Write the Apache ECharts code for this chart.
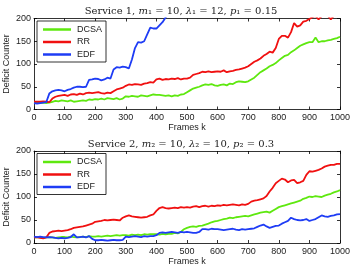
<!DOCTYPE html>
<html><head><meta charset="utf-8">
<script src="https://cdn.jsdelivr.net/npm/echarts@6/dist/echarts.min.js"></script>
<style>html,body{margin:0;padding:0;background:#fff}#c{width:362px;height:271px}</style>
</head><body><div id="c"></div>
<script>
const frames = [];
for (let k = 0; k <= 1000; k += 10) frames.push(k);
const xTicks = [0,100,200,300,400,500,600,700,800,900,1000];
const yTicks = [0,50,100,150,200];
const seriesNames = ['DCSA','RR','EDF'];

const s1DCSA = [15,15,14,15,14,15,17,19,18,20,
 19,18,20,17,18,19,20,19,22,21,
 23,22,24,22,25,24,23,25,22,24,
 29,28,30,29,28,31,30,29,31,33,
 32,32,31,30,31,29,31,30,33,34,
 38,42,46,48,50,53,55,54,56,53,
 52,54,55,53,57,56,60,62,61,60,
 62,66,70,76,82,86,90,95,98,102,
 108,113,118,120,126,130,135,140,143,146,
 148,148,158,148,150,150,152,153,155,157,160];
const s1RR = [17,17,17,18,17,16,24,28,30,31,
 32,30,33,34,32,35,33,36,37,36,
 37,38,36,35,37,36,40,44,46,48,
 52,55,54,56,55,54,57,58,60,59,
 66,68,65,67,66,68,67,69,66,68,
 68,70,76,78,80,83,82,84,82,83,
 84,83,86,82,84,85,87,88,90,92,
 95,100,105,108,112,118,122,127,125,135,
 155,162,162,158,170,190,182,185,193,195,
 199,203,205,198,205,208,206,198,206,208,210];
const s1EDF = [14,13,14,15,16,35,40,42,43,42,
 40,43,45,48,50,50,49,50,65,66,
 68,67,64,66,70,68,88,93,92,94,
 93,90,110,135,148,147,150,165,180,178,
 178,185,192,202,215,225,235,245,255,265,
 270,275,280,285,290,295,300,305,310,315,
 320,325,330,335,340,345,350,355,360,365,
 370,375,380,385,390,395,400,405,410,415,
 420,425,430,435,440,445,450,455,460,465,
 470,475,480,485,490,495,500,505,510,515,520];

const s2DCSA = [12,13,12,11,12,13,12,11,12,13,
 13,12,14,13,12,13,14,13,15,14,
 14,15,14,15,16,15,16,17,16,17,
 17,16,18,17,18,17,19,18,19,19,
 19,18,20,19,20,20,22,21,24,30,
 33,35,36,35,37,38,40,42,45,47,
 48,50,52,53,55,54,56,57,58,59,
 58,60,62,64,66,67,68,66,70,74,
 78,80,82,84,86,88,90,92,96,98,
 101,100,102,101,100,103,105,107,110,112,115];
const s2RR = [12,13,11,10,12,22,25,26,27,26,
 27,28,30,33,34,35,36,38,40,42,
 46,47,48,50,49,50,51,50,49,55,
 58,60,58,57,56,55,56,57,60,62,
 70,76,78,76,75,76,77,76,78,77,
 78,77,79,80,78,80,81,79,81,80,
 82,81,83,82,83,84,83,82,84,83,
 85,90,92,93,95,97,102,112,120,130,
 135,140,138,132,136,137,130,132,135,148,
 156,155,157,159,162,166,168,170,170,172,172];
const s2EDF = [14,13,14,13,12,13,12,11,10,11,
 10,11,13,19,12,13,14,12,15,9,
 6,6,7,6,5,6,7,6,6,7,
 14,13,14,15,14,13,15,14,15,15,
 17,22,23,22,23,24,23,22,24,23,
 24,23,22,22,24,30,30,29,31,30,
 30,29,28,29,30,31,29,28,30,29,
 30,31,32,35,38,40,36,33,35,37,
 38,42,45,48,55,52,50,49,50,52,
 48,50,52,56,60,58,57,59,60,62,63];

const colors = {DCSA:'#5ee80f', RR:'#f01010', EDF:'#1e3cf5'};
const txt = '#222';
const sans = 'Liberation Sans';
const serif = 'DejaVu Serif';

const grids = [
  {left:34, right:22, top:18.5, height:91, containLabel:false, outerBoundsMode:'none'},
  {left:34, right:22, top:151, height:92, containLabel:false, outerBoundsMode:'none'}
];
function xAx(i, pos){
  const main = pos==='bottom';
  return {gridIndex:i, type:'value', min:0, max:1000, interval:100, position:pos,
    name: main ? 'Frames k' : '', nameLocation:'middle', nameGap:14, nameMoveOverlap:false,
    nameTextStyle:{fontFamily:sans, fontSize:9, color:txt},
    axisLine:{show:true, onZero:false, lineStyle:{color:'#000', width:0.8}},
    axisTick:{show:true, inside:true, length:3, lineStyle:{color:'#000', width:0.8}},
    axisLabel:{show:main, fontFamily:sans, fontSize:9, color:txt, margin:4, formatter:v=>String(v)},
    splitLine:{show:false}};
}
function yAx(i, pos){
  const main = pos==='left';
  return {gridIndex:i, type:'value', min:0, max:200, interval:50, position:pos,
    name: main ? 'Deficit Counter' : '', nameLocation:'middle', nameGap:23, nameRotate:90,
    nameMoveOverlap:false,
    nameTextStyle:{fontFamily:sans, fontSize:9, color:txt},
    axisLine:{show:true, onZero:false, lineStyle:{color:'#000', width:0.8}},
    axisTick:{show:true, inside:true, length:3, lineStyle:{color:'#000', width:0.8}},
    axisLabel:{show:main, fontFamily:sans, fontSize:9, color:txt, margin:3, formatter:v=>String(v)},
    splitLine:{show:false}};
}
function mk(name, arr, gi){
  return {name:name, type:'line', xAxisIndex:gi*2, yAxisIndex:gi*2, showSymbol:false, symbol:'none',
    clip:true, animation:false,
    data: frames.map((f,i)=>[f, arr[i]]),
    lineStyle:{color:colors[name], width:1.8}, itemStyle:{color:colors[name]}};
}
function legend(top){
  return {orient:'vertical', left:37, top:top, itemWidth:28, itemHeight:2.5, itemGap:3.5, icon:'rect',
    padding:[4,4,3,6], borderColor:'#000', borderWidth:0.8, backgroundColor:'#fff', borderRadius:0,
    textStyle:{fontFamily:sans, fontSize:9, color:txt, padding:[0,0,0,1]},
    data: seriesNames.map(n=>({name:n, itemStyle:{color:colors[n]}}))};
}
function titleTxt(n, m, lam, p){
  return 'Service '+n+', {i|m}'+n+' = '+m+', {i|λ}'+n+' = '+lam+', {i|p}'+n+' = '+p;
}
const chart = echarts.init(document.getElementById('c'), null, {renderer:'canvas'});
chart.setOption({
  animation:false,
  backgroundColor:'#fff',
  title:[
    {text: titleTxt(1,10,12,0.15).replace(/\}1 /g,'}₁ '), left:'center', top:1,
      textStyle:{fontFamily:serif, fontSize:10, fontWeight:'normal', color:txt,
        rich:{i:{fontFamily:serif, fontStyle:'italic', fontSize:10, color:txt}}}},
    {text: titleTxt(2,10,10,0.3).replace(/\}2 /g,'}₂ '), left:'center', top:134,
      textStyle:{fontFamily:serif, fontSize:10, fontWeight:'normal', color:txt,
        rich:{i:{fontFamily:serif, fontStyle:'italic', fontSize:10, color:txt}}}}
  ],
  legend:[legend(21), legend(153.5)],
  grid: grids,
  xAxis:[xAx(0,'bottom'), xAx(0,'top'), xAx(1,'bottom'), xAx(1,'top')],
  yAxis:[yAx(0,'left'), yAx(0,'right'), yAx(1,'left'), yAx(1,'right')],
  series:[mk('DCSA',s1DCSA,0), mk('RR',s1RR,0), mk('EDF',s1EDF,0),
          mk('DCSA',s2DCSA,1), mk('RR',s2RR,1), mk('EDF',s2EDF,1)]
});
</script></body></html>
